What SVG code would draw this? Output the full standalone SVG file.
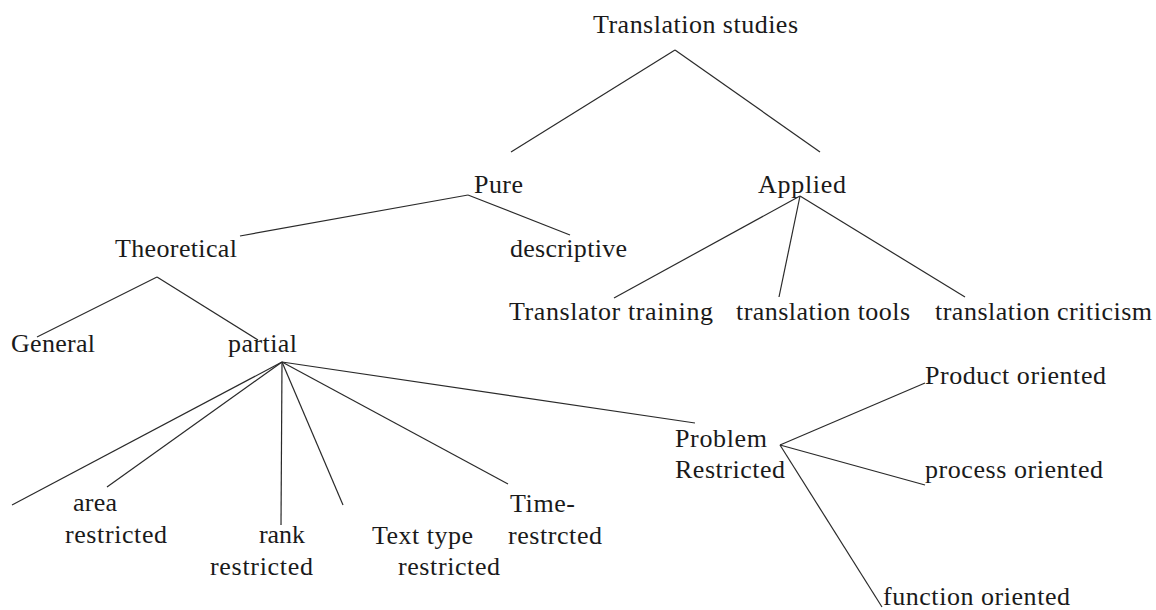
<svg xmlns="http://www.w3.org/2000/svg" width="1156" height="610" viewBox="0 0 1156 610">
<style>
  text { font-family: "Liberation Serif", "Times New Roman", serif; font-size: 26px; fill: #1a1a1a; }
  .c line { stroke: #2a2a2a; stroke-width: 1.2; fill: none; }
</style>
<rect x="0" y="0" width="1156" height="610" fill="#ffffff"/>
<g id="connectors" class="c">
  <line x1="675" y1="50" x2="511" y2="152"/>
  <line x1="675" y1="50" x2="820" y2="152"/>
  <line x1="468" y1="195" x2="240" y2="236"/>
  <line x1="468" y1="195" x2="570" y2="235"/>
  <line x1="800" y1="196" x2="614" y2="298"/>
  <line x1="800" y1="196" x2="779" y2="297"/>
  <line x1="800" y1="196" x2="965" y2="297"/>
  <line x1="157" y1="277" x2="37" y2="337"/>
  <line x1="157" y1="277" x2="258" y2="340"/>
  <line x1="282" y1="362" x2="12" y2="505"/>
  <line x1="282" y1="362" x2="107" y2="487"/>
  <line x1="282" y1="362" x2="281" y2="525"/>
  <line x1="282" y1="362" x2="343" y2="505"/>
  <line x1="282" y1="362" x2="508" y2="484"/>
  <line x1="282" y1="362" x2="695" y2="423"/>
  <line x1="780" y1="445" x2="925" y2="383"/>
  <line x1="780" y1="445" x2="925" y2="485"/>
  <line x1="780" y1="445" x2="882" y2="607"/>
</g>
<g id="n-translation-studies"><text x="593" y="33" textLength="205" lengthAdjust="spacing">Translation studies</text></g>
<g id="n-pure"><text x="474" y="193" textLength="49" lengthAdjust="spacing">Pure</text></g>
<g id="n-applied"><text x="758" y="193" textLength="88" lengthAdjust="spacing">Applied</text></g>
<g id="n-theoretical"><text x="115" y="257" textLength="122" lengthAdjust="spacing">Theoretical</text></g>
<g id="n-descriptive"><text x="510" y="257" textLength="117" lengthAdjust="spacing">descriptive</text></g>
<g id="n-translator-training"><text x="509" y="320" textLength="204" lengthAdjust="spacing">Translator training</text></g>
<g id="n-translation-tools"><text x="736" y="320" textLength="174" lengthAdjust="spacing">translation tools</text></g>
<g id="n-translation-criticism"><text x="935" y="320" textLength="217" lengthAdjust="spacing">translation criticism</text></g>
<g id="n-general"><text x="11" y="352" textLength="84" lengthAdjust="spacing">General</text></g>
<g id="n-partial"><text x="228" y="352" textLength="69" lengthAdjust="spacing">partial</text></g>
<g id="n-area-restricted">
  <text x="73" y="511" textLength="44" lengthAdjust="spacing">area</text>
  <text x="65" y="543" textLength="102" lengthAdjust="spacing">restricted</text>
</g>
<g id="n-rank-restricted">
  <text x="259" y="543" textLength="46" lengthAdjust="spacing">rank</text>
  <text x="210" y="575" textLength="103" lengthAdjust="spacing">restricted</text>
</g>
<g id="n-text-type-restricted">
  <text x="372" y="544" textLength="101" lengthAdjust="spacing">Text type</text>
  <text x="398" y="575" textLength="102" lengthAdjust="spacing">restricted</text>
</g>
<g id="n-time-restricted">
  <text x="510" y="512" textLength="65" lengthAdjust="spacing">Time-</text>
  <text x="508" y="544" textLength="94" lengthAdjust="spacing">restrcted</text>
</g>
<g id="n-problem-restricted">
  <text x="675" y="447" textLength="92" lengthAdjust="spacing">Problem</text>
  <text x="675" y="478" textLength="110" lengthAdjust="spacing">Restricted</text>
</g>
<g id="n-product-oriented"><text x="925" y="384" textLength="181" lengthAdjust="spacing">Product oriented</text></g>
<g id="n-process-oriented"><text x="925" y="478" textLength="178" lengthAdjust="spacing">process oriented</text></g>
<g id="n-function-oriented"><text x="883" y="605" textLength="187" lengthAdjust="spacing">function oriented</text></g>
</svg>
